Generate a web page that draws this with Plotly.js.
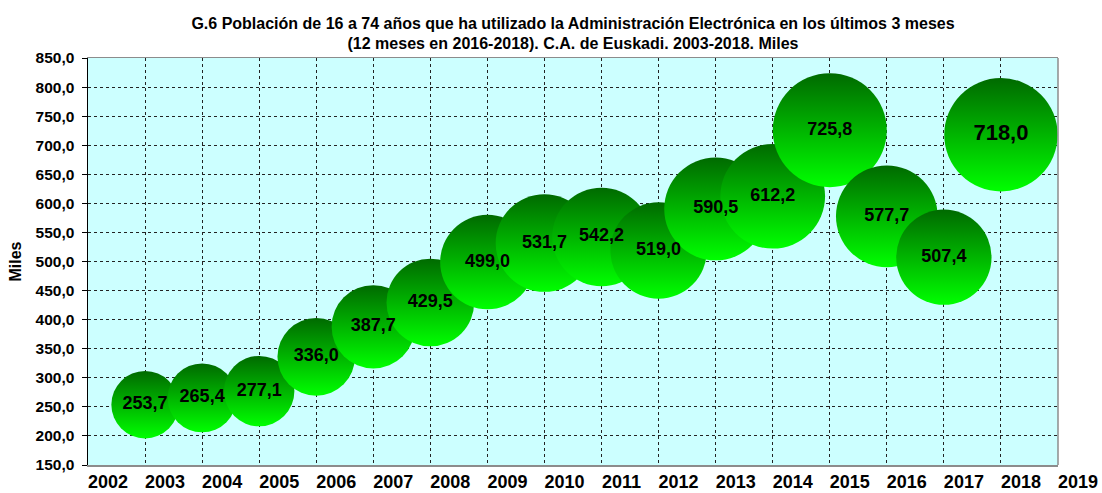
<!DOCTYPE html>
<html>
<head>
<meta charset="utf-8">
<script src="https://cdn.plot.ly/plotly-3.0.1.min.js"></script>
<style>html,body{margin:0;padding:0;background:#fff;}#chart{width:1102px;height:493px;}</style>
</head>
<body>
<div id="chart"></div>
<script>
var years = [2003, 2004, 2005, 2006, 2007, 2008, 2009, 2010, 2011, 2012, 2013, 2014, 2015, 2016, 2017, 2018];
var values = [253.7, 265.4, 277.1, 336.0, 387.7, 429.5, 499.0, 531.7, 542.2, 519.0, 590.5, 612.2, 725.8, 577.7, 507.4, 718.0];
var labels = ["253,7", "265,4", "277,1", "336,0", "387,7", "429,5", "499,0", "531,7", "542,2", "519,0", "590,5", "612,2", "725,8", "577,7", "507,4", "718,0"];
var axisYears = [2002, 2003, 2004, 2005, 2006, 2007, 2008, 2009, 2010, 2011, 2012, 2013, 2014, 2015, 2016, 2017, 2018, 2019];
var yTicks = [150, 200, 250, 300, 350, 400, 450, 500, 550, 600, 650, 700, 750, 800, 850];

var FONT = 'Arial, "Liberation Sans", sans-serif';
var labelSizes = labels.map(function (l, i) { return i === labels.length - 1 ? 22 : 18; });

var trace = {
  type: 'scatter',
  mode: 'markers+text',
  x: years,
  y: values,
  text: labels,
  textposition: 'middle center',
  textfont: { family: FONT, size: labelSizes, color: '#000', weight: 'bold' },
  cliponaxis: false,
  hoverinfo: 'skip',
  marker: {
    size: values,
    sizemode: 'area',
    sizeref: 2 * 725.8 / (114 * 114),
    color: '#006A00',
    opacity: 1,
    line: { width: 0 },
    gradient: { type: 'vertical', color: '#00FF00' }
  },
  showlegend: false
};

var layout = {
  width: 1102,
  height: 493,
  paper_bgcolor: '#ffffff',
  plot_bgcolor: '#CCFFFF',
  separators: ',.',
  margin: { l: 88, r: 44, t: 58, b: 28, pad: 0 },
  font: { family: FONT, color: '#000' },
  title: {
    text: 'G.6 Población de 16 a 74 años que ha utilizado la Administración Electrónica en los últimos 3 meses<br>(12 meses en 2016-2018). C.A. de Euskadi. 2003-2018. Miles',
    font: { family: FONT, size: 16, color: '#000', weight: 'bold' },
    x: 0.5, xref: 'paper', xanchor: 'center',
    y: 0.942, yref: 'container', yanchor: 'top'
  },
  xaxis: {
    range: [2002, 2019],
    tickvals: axisYears,
    ticktext: axisYears.map(String),
    ticks: '',
    ticklabelshift: 20,
    tickfont: { family: FONT, size: 18, color: '#000', weight: 'bold' },
    showgrid: true,
    gridcolor: '#222222',
    griddash: 'dot',
    gridwidth: 1,
    showline: true,
    linecolor: '#8c8c8c',
    linewidth: 1.5,
    mirror: true,
    zeroline: false,
    fixedrange: true
  },
  yaxis: {
    range: [150, 850],
    tickvals: yTicks,
    tickformat: '.1f',
    ticks: 'outside',
    ticklen: 5,
    tickcolor: '#000',
    ticklabelstandoff: 4,
    tickfont: { family: FONT, size: 15.5, color: '#000', weight: 'bold' },
    showgrid: true,
    gridcolor: '#222222',
    griddash: 'dot',
    gridwidth: 1,
    showline: true,
    linecolor: '#000',
    linewidth: 1.5,
    zeroline: false,
    fixedrange: true,
    title: { text: 'Miles', font: { family: FONT, size: 16, color: '#000', weight: 'bold' }, standoff: 10 }
  },
  shapes: [
    { type: 'line', xref: 'paper', yref: 'paper', x0: 1, x1: 1, y0: 0, y1: 1, line: { color: '#8c8c8c', width: 1.5 }, layer: 'above' }
  ]
};

Plotly.newPlot('chart', [trace], layout, { displayModeBar: false, staticPlot: true });
</script>
</body>
</html>
